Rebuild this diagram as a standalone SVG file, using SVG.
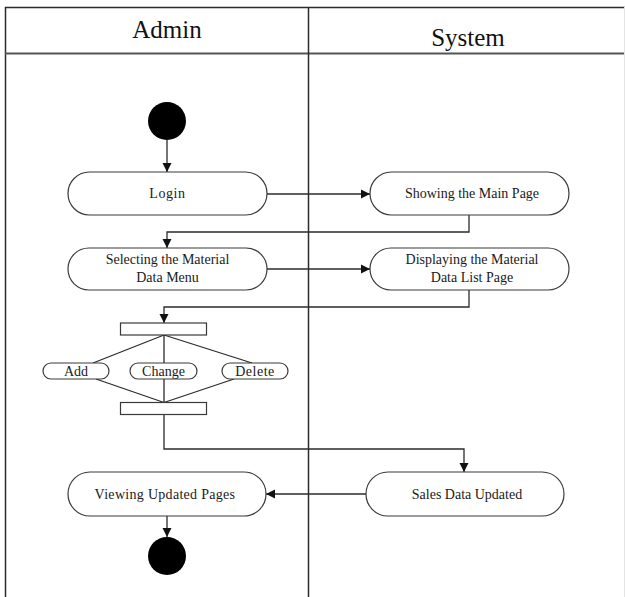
<svg xmlns="http://www.w3.org/2000/svg" width="625" height="597" viewBox="0 0 625 597">
<style>
.frame{stroke:#2b2b2b;stroke-width:1.5;fill:none}
.node{fill:#fff;stroke:#3a3a3a;stroke-width:1.2}
.bar{fill:#fff;stroke:#3a3a3a;stroke-width:1.2}
.conn{fill:none;stroke:#2b2b2b;stroke-width:1.3}
.t{font-family:"Liberation Serif","Times New Roman",serif;font-size:14px;fill:#1a1a1a;text-anchor:middle}
.h{font-family:"Liberation Serif","Times New Roman",serif;font-size:25px;fill:#111;text-anchor:middle}
.dot{fill:#000}
</style>
<defs>
<marker id="arr" markerWidth="10" markerHeight="10" refX="9" refY="5" orient="auto" markerUnits="userSpaceOnUse">
<path d="M0,0.5 L9,5 L0,9.5 Z" fill="#111"/>
</marker>
</defs>
<rect width="625" height="597" fill="#fff"/>
<g id="frame">
<line class="frame" x1="5.5" y1="7" x2="5.5" y2="597"/>
<line class="frame" x1="5" y1="7.5" x2="625" y2="7.5"/>
<line class="frame" x1="5" y1="53.5" x2="625" y2="53.5" style="stroke:#555;stroke-width:2"/>
<line class="frame" x1="308.5" y1="7" x2="308.5" y2="597"/>
<line x1="624.5" y1="7" x2="624.5" y2="597" stroke="#e4e4e4" stroke-width="1"/>
<text class="h" x="167" y="38">Admin</text>
<text class="h" x="468" y="46">System</text>
</g>
<g id="connectors">
<line class="conn" x1="167" y1="140" x2="167" y2="172" marker-end="url(#arr)"/>
<line class="conn" x1="267" y1="194" x2="370" y2="194" marker-end="url(#arr)"/>
<polyline class="conn" points="469,215 469,232 167,232 167,248" marker-end="url(#arr)"/>
<line class="conn" x1="267" y1="269" x2="370" y2="269" marker-end="url(#arr)"/>
<polyline class="conn" points="469,290 469,307 164,307 164,323" marker-end="url(#arr)"/>
<line class="conn" x1="164" y1="335" x2="164" y2="402.5"/>
<line class="conn" x1="164" y1="335" x2="93" y2="363"/>
<line class="conn" x1="164" y1="335" x2="252" y2="363"/>
<line class="conn" x1="96" y1="379" x2="164" y2="402.5"/>
<line class="conn" x1="234" y1="379" x2="164" y2="402.5"/>
<polyline class="conn" points="164,414.5 164,449 464,449 464,472" marker-end="url(#arr)"/>
<line class="conn" x1="366" y1="494" x2="266" y2="494" marker-end="url(#arr)"/>
<line class="conn" x1="167" y1="516" x2="167" y2="537" marker-end="url(#arr)"/>
</g>
<g id="start"><circle class="dot" cx="167" cy="121" r="19"/></g>
<g id="login"><rect class="node" x="68" y="172" width="199" height="43" rx="21.5"/><text class="t" x="167.5" y="198" letter-spacing="0.6">Login</text></g>
<g id="showing"><rect class="node" x="370" y="172" width="199" height="43" rx="21.5"/><text class="t" x="472" y="198">Showing the Main Page</text></g>
<g id="selecting"><rect class="node" x="68" y="248" width="199" height="42" rx="21"/><text class="t" x="167.5" y="264">Selecting the Material</text><text class="t" x="167.5" y="282">Data Menu</text></g>
<g id="displaying"><rect class="node" x="370" y="248" width="199" height="42" rx="21"/><text class="t" x="472" y="264">Displaying the Material</text><text class="t" x="472" y="282">Data List Page</text></g>
<g id="fork"><rect class="bar" x="120.5" y="323" width="86" height="12"/></g>
<g id="add"><rect class="node" x="43" y="363" width="66" height="16" rx="8"/><text class="t" x="76" y="376">Add</text></g>
<g id="change"><rect class="node" x="130" y="363" width="67" height="16" rx="8"/><text class="t" x="163.5" y="376">Change</text></g>
<g id="delete"><rect class="node" x="222" y="363" width="66" height="16" rx="8"/><text class="t" x="255" y="376" letter-spacing="0.5">Delete</text></g>
<g id="join"><rect class="bar" x="120.5" y="402.5" width="86" height="12"/></g>
<g id="sales"><rect class="node" x="366" y="472" width="198" height="44" rx="22"/><text class="t" x="467" y="499">Sales Data Updated</text></g>
<g id="viewing"><rect class="node" x="68" y="472" width="198" height="44" rx="22"/><text class="t" x="165" y="499" letter-spacing="0.3">Viewing Updated Pages</text></g>
<g id="end"><circle class="dot" cx="167" cy="556" r="19"/></g>
</svg>
